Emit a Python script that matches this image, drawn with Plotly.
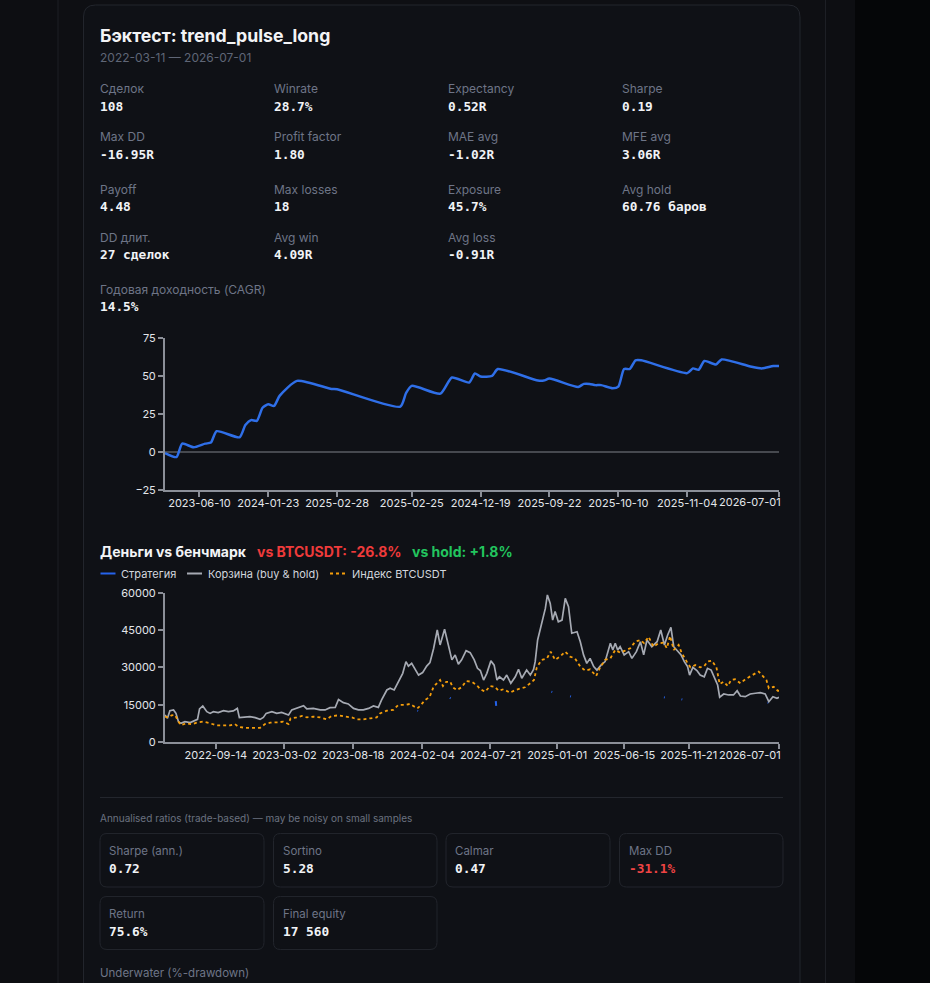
import plotly.graph_objects as go
import pandas as pd

W, H = 930, 983

# ---------------- DATA ----------------
title_text = "Бэктест: trend_pulse_long"
period_text = "2022-03-11 — 2026-07-01"

metric_labels = ["Сделок", "Winrate", "Expectancy", "Sharpe",
                 "Max DD", "Profit factor", "MAE avg", "MFE avg",
                 "Payoff", "Max losses", "Exposure", "Avg hold",
                 "DD длит.", "Avg win", "Avg loss"]
metric_values = ["108", "28.7%", "0.52R", "0.19",
                 "-16.95R", "1.80", "-1.02R", "3.06R",
                 "4.48", "18", "45.7%", "60.76 баров",
                 "27 сделок", "4.09R", "-0.91R"]
cagr_label = "Годовая доходность (CAGR)"
cagr_value = "14.5%"

# equity curve in R, by trade number
equity_trade_idx = [0, 2, 3, 5, 7, 8, 9, 13, 14, 15, 16, 17, 18, 19, 20, 23, 29, 30, 41, 42,
                    43, 48, 50, 53, 54, 55, 57, 58, 65, 66, 67, 72, 73, 74, 75, 76, 78, 79, 80, 81,
                    82, 83, 91, 92, 93, 94, 96, 97, 102, 104, 106, 107]
equity_r = [-0.7, -3.3, 5.5, 3.1, 5.5, 6.2, 13.7, 9.7, 17.7, 21, 20.5, 29.1, 31.4, 30.3, 37.1, 46.8, 41.5, 41.3, 29.8, 38.7,
            43.5, 38.4, 49, 45.7, 51.7, 49.7, 50.1, 54.6, 47, 47, 48.3, 42.8, 44.8, 44.8, 44, 44, 42, 43, 54.6, 54.6,
            60.3, 60.3, 51.9, 55, 54.1, 59.9, 57.6, 60.9, 56.3, 55, 56.6, 56.6]
equity_tick_idx = [6, 18, 30, 43, 55, 67, 79, 91, 107]
equity_tick_text = ["2023-06-10", "2024-01-23", "2025-02-28", "2025-02-25", "2024-12-19",
                    "2025-09-22", "2025-10-10", "2025-11-04", "2026-07-01"]

# money vs benchmark (days since start date)
money_start = "2022-05-12"
money_end = "2026-07-01"
basket_days = [0, 6, 12, 21, 27, 33, 39, 49, 62, 74, 80, 85, 93, 103, 111, 119, 131, 144, 156, 168,
               178, 183, 197, 209, 222, 234, 242, 249, 263, 275, 287, 304, 312, 324, 341, 349, 365, 382,
               394, 406, 419, 427, 439, 451, 464, 476, 488, 501, 513, 525, 533, 546, 554, 564, 574, 585,
               593, 599, 607, 615, 624, 634, 644, 652, 661, 670, 677, 688, 698, 706, 714, 722, 730, 741,
               751, 761, 769,
               776, 784, 792, 802, 810, 817, 823, 833, 841, 851, 862, 870, 878, 890, 899, 907, 911, 917,
               927, 936, 941, 948, 954, 960, 968, 977, 985, 993, 1001, 1014, 1022, 1030, 1038, 1046, 1055,
               1063, 1073, 1083, 1096, 1102, 1108, 1114, 1120, 1130, 1141, 1149, 1160,
               1170, 1178, 1186, 1198, 1211, 1220, 1229, 1237, 1245, 1252, 1260, 1270, 1278, 1286, 1291,
               1299, 1309, 1317, 1327, 1335, 1344, 1352, 1360, 1365, 1375, 1387, 1399, 1408, 1416, 1428,
               1440, 1453, 1465, 1477, 1486, 1496, 1506, 1511]
basket_values = [10850, 9500, 12600, 12900, 11500, 8200, 7500, 8200, 7800, 8850, 9100, 13300, 14500, 12200, 11500, 12200, 11800, 12600, 12200, 12500,
                 13500, 9800, 9900, 10200, 9800, 9100, 9900, 11500, 12200, 11500, 11900, 10850, 12900, 13500, 14600, 13300, 13500, 12900,
                 12900, 13800, 13900, 17100, 15800, 15300, 13500, 12900, 12900, 13500, 14500, 13900, 16900, 20900, 21600, 20900, 24200, 27600,
                 32300, 30500, 31600, 29200, 26900, 27900, 30500, 31900, 37600, 45000, 39000, 45300, 38300, 33000, 35000, 31300, 33000, 36700,
                 35900, 33000, 29600,
                 28700, 24900, 27600, 32600, 30900, 24900, 26200, 24900, 26900, 23600, 26200, 29200, 25600, 28900, 26900, 29200, 32300, 41000,
                 47700, 53700, 59100, 55700, 49000, 52400, 48300, 49000, 57700, 54400, 43700, 44300, 40300, 35000, 31600, 33600, 30300,
                 28900, 30900, 32300, 39700, 37000, 39700, 37000, 38300, 35000, 36300, 33600, 36300,
                 40300, 35000, 41000, 38300, 40300, 45000, 39000, 43000, 46100, 38300, 37000, 35000, 32300, 30300, 26900,
                 30000, 28700, 26900, 26200, 29600, 28900, 26200, 22900, 18000, 19300, 18900, 18900, 20600, 18500, 18200,
                 19300, 19600, 19800, 19300, 16200, 18200, 17600, 18000]

index_days = [0, 8, 16, 25, 33, 39, 53, 66, 78, 94, 111, 127, 144, 160, 172, 181, 197, 213, 234, 246,
              259, 279, 291, 304, 309, 324, 337, 349, 365, 382,
              398, 410, 427, 443, 460, 472, 488, 505, 521, 529, 546, 562, 574, 591, 603, 611, 621, 628,
              640, 651, 661, 669, 677, 684, 692, 702, 708, 718, 730, 741, 755, 767,
              776, 788, 800, 812, 821, 833, 849, 862, 874, 886, 899, 908, 915, 927, 940, 949, 960, 972,
              985, 997, 1009, 1022, 1034, 1046, 1061, 1071, 1083, 1096, 1108, 1120, 1132, 1145, 1157,
              1170, 1179, 1190, 1202, 1215, 1227, 1235, 1243, 1252, 1264, 1272, 1284, 1293, 1305, 1317,
              1327, 1335, 1346, 1357, 1365, 1375, 1385, 1393, 1403, 1416, 1428, 1440, 1453, 1461, 1472,
              1480, 1486, 1498, 1508, 1511]
index_values = [10200, 9900, 10700, 10850, 8200, 6800, 7500, 7100, 7800, 8200, 7500, 6700, 6700, 6700, 7200, 6100, 5700, 5700, 5700, 7200,
                7800, 7900, 8200, 7200, 9500, 9900, 10450, 9900, 10200, 9900,
                9100, 10450, 10700, 10200, 9900, 9100, 9100, 9500, 9900, 11500, 12600, 12900, 14900, 14900, 15300, 14500, 13500, 14500,
                16900, 18000, 22200, 23600, 24900, 22500, 24200, 24200, 22000, 20900, 22000, 24500, 24200, 22900,
                21200, 20200, 22500, 22200, 20600, 21200, 19800, 20900, 21600, 22000, 23600, 24900, 30000, 33000, 33600, 36300, 33000, 34300,
                36300, 34300, 33600, 30300, 28700, 29200, 26500, 30000, 33000, 33600, 37000, 35900, 36700, 37700, 40300,
                41000, 39700, 42300, 38300, 39700, 39900, 37700, 42600, 37000, 39000, 35600, 32300, 30000, 30900, 30000,
                30500, 32300, 32700, 30000, 23300, 24200, 22500, 24900, 25200, 23600, 25200, 26200, 27600, 28300, 26500,
                24900, 21600, 22200, 20600, 20600]

strategy_days = [621, 623, 624, 701, 703, 704, 814, 815, 816, 951, 953, 954, 997, 999, 1000,
                 1228, 1230, 1231, 1271, 1273, 1274, 1483, 1485]
strategy_values = [12600, 12500, None, 17700, 17500, None, 16400, 14500, None, 20200, 20100, None, 18400, 18300, None,
                   18000, 17900, None, 17200, 17100, None, 15900, 15800]

money_tick_dates = ["2022-09-14", "2023-03-02", "2023-08-18", "2024-02-04", "2024-07-21",
                    "2025-01-01", "2025-06-15", "2025-11-21", "2026-07-01"]

money_title = "Деньги vs бенчмарк"
vs_btc_text = "vs BTCUSDT: -26.8%"
vs_hold_text = "vs hold: +1.8%"
series_names = ["Стратегия", "Корзина (buy & hold)", "Индекс BTCUSDT"]
series_colors = ["#2563eb", "#a6aab3", "#f59e0b"]
series_dash = ["solid", "solid", "3px,3px"]

ratios_note = "Annualised ratios (trade-based) — may be noisy on small samples"
ratio_labels = ["Sharpe (ann.)", "Sortino", "Calmar", "Max DD", "Return", "Final equity"]
ratio_values = ["0.72", "5.28", "0.47", "-31.1%", "75.6%", "17 560"]
underwater_label = "Underwater (%-drawdown)"

# ---------------- HELPERS ----------------
def X(px):
    return px / W


def Y(py):
    return 1 - py / H


def to_dates(days):
    base = pd.Timestamp(money_start)
    return [(base + pd.Timedelta(days=d)).strftime("%Y-%m-%d") for d in days]


def rrect(x0, y0, x1, y1, r):
    pts = [
        ("M", [(x0 + r, y0)]), ("L", [(x1 - r, y0)]), ("Q", [(x1, y0), (x1, y0 + r)]),
        ("L", [(x1, y1 - r)]), ("Q", [(x1, y1), (x1 - r, y1)]), ("L", [(x0 + r, y1)]),
        ("Q", [(x0, y1), (x0, y1 - r)]), ("L", [(x0, y0 + r)]), ("Q", [(x0, y0), (x0 + r, y0)]),
    ]
    s = ""
    for cmd, ps in pts:
        s += cmd + " " + " ".join(f"{X(a):.5f},{Y(b):.5f}" for a, b in ps) + " "
    return s + "Z"


UI = "Inter, 'Noto Sans', sans-serif"
MONO = "'DejaVu Sans Mono', monospace"
LABEL_C = "#6e7587"
VALUE_C = "#f1f3f6"
AXIS_C = "#8b8f98"
TICK_C = "#e3e6ea"
TICK_FONT = dict(family=UI, size=11, color=TICK_C)

fig = go.Figure()

# ---------------- TRACES ----------------
fig.add_trace(go.Scatter(
    x=equity_trade_idx, y=equity_r, mode="lines", name="Equity (R)",
    line=dict(color="#2f6fe8", width=2.5, shape="spline", smoothing=0.6),
    xaxis="x", yaxis="y", showlegend=False, hoverinfo="skip"))

fig.add_trace(go.Scatter(
    x=to_dates(strategy_days), y=strategy_values, mode="lines", name=series_names[0],
    line=dict(color=series_colors[0], width=2, dash=series_dash[0]), connectgaps=False,
    xaxis="x2", yaxis="y2", showlegend=False))
fig.add_trace(go.Scatter(
    x=to_dates(basket_days), y=basket_values, mode="lines", name=series_names[1],
    line=dict(color=series_colors[1], width=1.7, dash=series_dash[1]),
    xaxis="x2", yaxis="y2", showlegend=False))
fig.add_trace(go.Scatter(
    x=to_dates(index_days), y=index_values, mode="lines", name=series_names[2],
    line=dict(color=series_colors[2], width=1.8, dash=series_dash[2]),
    xaxis="x2", yaxis="y2", showlegend=False))

# ---------------- SHAPES (page chrome) ----------------
shapes = []
shapes.append(dict(type="rect", xref="paper", yref="paper", x0=X(855), x1=1, y0=0, y1=1,
                   fillcolor="#050608", line_width=0, layer="below"))
shapes.append(dict(type="rect", xref="paper", yref="paper", x0=X(58), x1=X(825.5), y0=-0.01, y1=1.01,
                   fillcolor="#0e0f13", line=dict(color="#1d1f25", width=1), layer="below"))
shapes.append(dict(type="path", xref="paper", yref="paper", path=rrect(83.5, 5, 800, 1010, 12),
                   fillcolor="#0f1116", line=dict(color="#23262d", width=1), layer="below"))
shapes.append(dict(type="line", xref="paper", yref="paper", x0=X(100), x1=X(783), y0=Y(797.5), y1=Y(797.5),
                   line=dict(color="#23262d", width=1), layer="below"))
card_boxes = [(100, 833.5, 264, 887), (273.5, 833.5, 437, 887), (446, 833.5, 610, 887), (619.5, 833.5, 783, 887),
              (100, 896.5, 264, 949.5), (273.5, 896.5, 437, 949.5)]
for (a, b, c, d) in card_boxes:
    shapes.append(dict(type="path", xref="paper", yref="paper", path=rrect(a, b, c, d, 7),
                       fillcolor="#0f1116", line=dict(color="#22252c", width=1), layer="below"))

# ---------------- ANNOTATIONS ----------------
ann = []


def text(px, py, s, size, color, family=UI, bold=False, anchor="left"):
    ann.append(dict(xref="paper", yref="paper", x=X(px), y=Y(py), xanchor=anchor, yanchor="middle",
                    text=(f"<b>{s}</b>" if bold else s), showarrow=False,
                    font=dict(family=family, size=size, color=color)))


text(98, 35, title_text, 17.7, "#f3f4f6", bold=True)
text(98, 57, period_text, 12, "#5f6676")

col_x = [98, 272, 446, 620]
row_y = [89, 137, 189, 237]
for i, (lab, val) in enumerate(zip(metric_labels, metric_values)):
    r, c = divmod(i, 4)
    text(col_x[c], row_y[r], lab, 12, LABEL_C)
    text(col_x[c], row_y[r] + 17.5, val, 12.8, VALUE_C, family=MONO, bold=True)
text(98, 289, cagr_label, 12, LABEL_C)
text(98, 306.5, cagr_value, 12.8, VALUE_C, family=MONO, bold=True)

text(98, 551, money_title, 14, "#f3f4f6", bold=True)
text(255, 551, vs_btc_text, 14, "#ef3b3b", bold=True)
text(410, 551, vs_hold_text, 14, "#22c55e", bold=True)

# legend (manual, compact)
legend_line_x = [(100.5, 115.5), (187, 202), (330, 347)]
legend_text_x = [119, 206, 350]
for (a, b), tx, name, col, dsh in zip(legend_line_x, legend_text_x, series_names, series_colors, series_dash):
    shapes.append(dict(type="line", xref="paper", yref="paper", x0=X(a), x1=X(b), y0=Y(573.5), y1=Y(573.5),
                       line=dict(color=col, width=2, dash=dsh)))
    text(tx, 573.5, name, 11, "#d2d6dd")

# last tick labels kept inside the plot edge
text(783, 502, equity_tick_text[-1], 11, TICK_C, anchor="right")
text(783, 755, money_tick_dates[-1], 11, TICK_C, anchor="right")

text(98, 817.5, ratios_note, 10, "#6b7280")
for i, (lab, val) in enumerate(zip(ratio_labels, ratio_values)):
    a, b, c, d = card_boxes[i]
    text(a + 7, b + 17, lab, 11.5, LABEL_C)
    text(a + 7, b + 35, val, 12.8, "#ef4444" if val.startswith("-") else VALUE_C, family=MONO, bold=True)
text(98, 973, underwater_label, 11.5, LABEL_C)

# ---------------- LAYOUT ----------------
axis_common = dict(showline=True, linecolor=AXIS_C, linewidth=2, ticks="outside", ticklen=5,
                   tickcolor=AXIS_C, tickwidth=1.5, showgrid=False, tickfont=TICK_FONT, fixedrange=True,
                   automargin=False, tickangle=0)

fig.update_layout(
    width=W, height=H, margin=dict(l=0, r=0, t=0, b=0, pad=0, autoexpand=False),
    autosize=False,
    paper_bgcolor="#0d0e12", plot_bgcolor="rgba(0,0,0,0)",
    shapes=shapes, annotations=ann, showlegend=False,
    xaxis=dict(domain=[X(165), X(779)], range=[0, 107], tickmode="array",
               tickvals=equity_tick_idx, ticktext=equity_tick_text[:-1] + [""], zeroline=False, anchor="y",
               ticklabelstandoff=-3, **axis_common),
    yaxis=dict(domain=[Y(490), Y(338)], range=[-25, 75], tickvals=[-25, 0, 25, 50, 75],
               zeroline=True, zerolinecolor="#46494f", zerolinewidth=2, anchor="x", **axis_common),
    xaxis2=dict(domain=[X(165), X(779)], type="date", range=[money_start, money_end], tickmode="array",
                tickvals=money_tick_dates, ticktext=money_tick_dates[:-1] + [""], zeroline=False, anchor="y2",
                ticklabelstandoff=-3, **axis_common),
    yaxis2=dict(domain=[Y(742), Y(592.7)], range=[0, 60000], tickvals=[0, 15000, 30000, 45000, 60000],
                tickformat="d", zeroline=False, anchor="x2", **axis_common),
    hovermode=False,
)

fig.write_html("out.html", config={"responsive": False, "displayModeBar": False})
